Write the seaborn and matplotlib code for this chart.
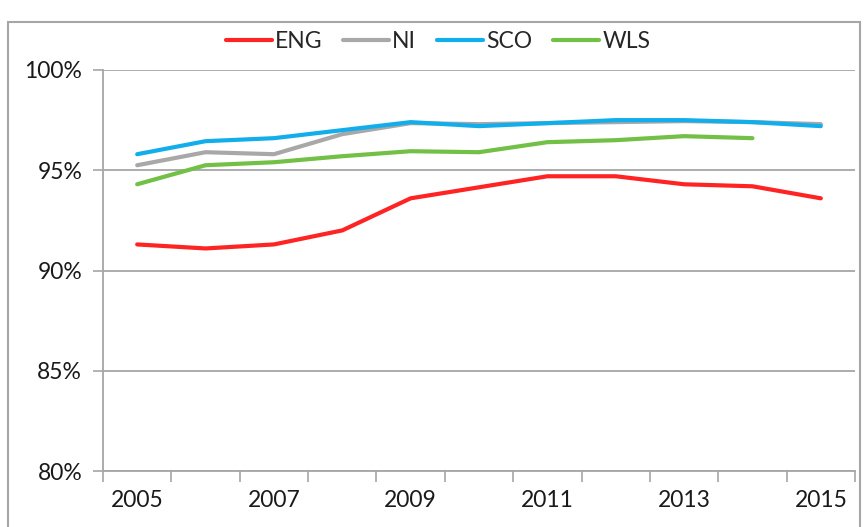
import numpy as np
import pandas as pd
import matplotlib
matplotlib.use("Agg")
import matplotlib.pyplot as plt
import seaborn as sns
from matplotlib.patches import Rectangle

years = list(range(2005, 2016))
eng = [91.3, 91.1, 91.3, 92.0, 93.6, 94.15, 94.7, 94.7, 94.3, 94.2, 93.6]
ni = [95.25, 95.9, 95.8, 96.8, 97.35, 97.3, 97.35, 97.4, 97.45, 97.4, 97.3]
sco = [95.8, 96.45, 96.6, 97.0, 97.4, 97.2, 97.35, 97.5, 97.5, 97.4, 97.2]
wls = [94.3, 95.25, 95.4, 95.7, 95.95, 95.9, 96.4, 96.5, 96.7, 96.6, np.nan]

series = {"ENG": eng, "NI": ni, "SCO": sco, "WLS": wls}
colors = {"ENG": "#FF2424", "NI": "#A8A8A8", "SCO": "#12AEEB", "WLS": "#72C045"}

df = pd.concat(
    [pd.DataFrame({"year": years, "value": vals, "region": name})
     for name, vals in series.items()],
    ignore_index=True,
).dropna()

sns.set_style("white")
plt.rcParams["font.family"] = ["Lato", "DejaVu Sans"]
FS = 16.5

fig = plt.figure(figsize=(8.64, 5.27), dpi=100)
ax = fig.add_axes([103 / 864, 1 - 471 / 527, (855 - 103) / 864, (471 - 70) / 527])

sns.lineplot(data=df, x="year", y="value", hue="region",
             hue_order=list(series), palette=colors, linewidth=3,
             ax=ax, legend=False)

ax.set_xlim(2004.5, 2015.5)
ax.set_ylim(80, 100)
ax.set_yticks([80, 85, 90, 95, 100])
ax.set_yticklabels([f"{v}%" for v in [80, 85, 90, 95, 100]])
ax.yaxis.grid(True, color="#A6A6A6", linewidth=1.3)
ax.set_axisbelow(True)

ax.set_xticks(years[::2])
ax.set_xticklabels([str(y) for y in years[::2]])
ax.set_xticks(np.arange(2004.5, 2016, 1), minor=True)
ax.tick_params(axis="x", which="major", length=0, pad=14, labelsize=FS,
               colors="#1a1a1a")
ax.tick_params(axis="x", which="minor", length=8, width=1.2, color="#A6A6A6",
               direction="out", bottom=True)
ax.tick_params(axis="y", length=7, width=1.2, color="#A6A6A6",
               direction="out", left=True, labelsize=FS, colors="#1a1a1a",
               pad=8)

for side in ["top", "right"]:
    ax.spines[side].set_visible(False)
for side in ["left", "bottom"]:
    ax.spines[side].set_color("#A6A6A6")
    ax.spines[side].set_linewidth(1.3)
ax.set_xlabel("")
ax.set_ylabel("")

handles = [plt.Line2D([], [], color=colors[k], linewidth=3) for k in series]
fig.legend(handles, list(series), loc="center", bbox_to_anchor=(438 / 864, 1 - 42 / 527),
           ncol=4, frameon=False, fontsize=FS, handlelength=2.0,
           handletextpad=0.15, columnspacing=0.9)

fig.patches.append(Rectangle((8 / 864, -0.1), 852 / 864, 0.1 + 1 - 22 / 527,
                             transform=fig.transFigure, fill=False,
                             edgecolor="#A6A6A6", linewidth=1.5))

fig.savefig("out.png", dpi=100)
